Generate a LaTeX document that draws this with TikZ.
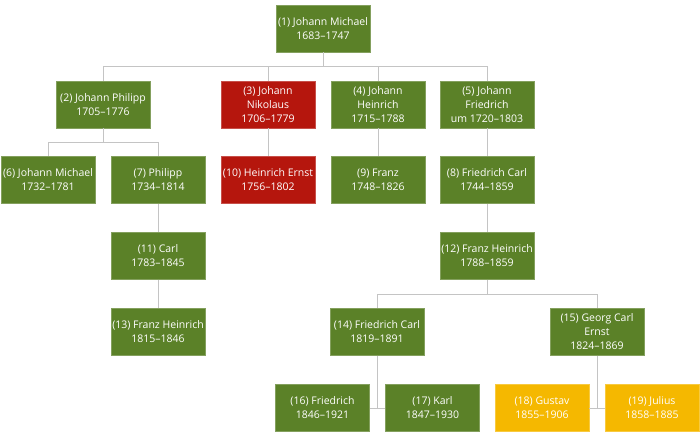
\documentclass[tikz,border=0pt]{standalone}
\usepackage{fontspec}
\setmainfont{Open Sans}
\definecolor{bachgreen}{HTML}{5B8128}
\definecolor{bachred}{HTML}{B5160D}
\definecolor{bachyellow}{HTML}{F5B800}
\definecolor{linegray}{HTML}{C4C4C4}
\tikzset{
  person/.style={fill=bachgreen, draw=bachgreen!75!white, line width=0.8pt,
    text=white, minimum width=94pt, minimum height=47pt, inner sep=0pt,
    align=center, font=\fontsize{10.5}{14}\selectfont},
  redline/.style={person, fill=bachred, draw=bachred!75!white},
  yellowline/.style={person, fill=bachyellow, draw=bachyellow!75!white},
  link/.style={draw=linegray, line width=1pt}
}
\begin{document}
\begin{tikzpicture}[x=1pt,y=-1pt]
        \useasboundingbox (0,0) rectangle (700,437);

        \node[person] (n1) at (323,28.5) {(1) Johann Michael\\1683–1747};

        \node[person] (n2) at (103,104.5) {(2) Johann Philipp\\1705–1776};
        \node[redline] (n3) at (268,104.5) {(3) Johann\\Nikolaus\\1706–1779};
        \node[person] (n4) at (378,104.5) {(4) Johann\\Heinrich\\1715–1788};
        \node[person] (n5) at (487,104.5) {(5) Johann\\Friedrich\\um 1720–1803};

        \node[person] (n6) at (48,180) {(6) Johann Michael\\1732–1781};
        \node[person] (n7) at (158,180) {(7) Philipp\\1734–1814};
        \node[redline] (n10) at (268,180) {(10) Heinrich Ernst\\1756–1802};
        \node[person] (n9) at (378,180) {(9) Franz\\1748–1826};
        \node[person] (n8) at (487,180) {(8) Friedrich Carl\\1744–1859};

        \node[person] (n11) at (158,256) {(11) Carl\\1783–1845};
        \node[person] (n12) at (487,256) {(12) Franz Heinrich\\1788–1859};

        \node[person] (n13) at (158,332) {(13) Franz Heinrich\\1815–1846};
        \node[person] (n14) at (377,332) {(14) Friedrich Carl\\1819–1891};
        \node[person] (n15) at (597,332) {(15) Georg Carl\\Ernst\\1824–1869};

        \node[person] (n16) at (322.5,408) {(16) Friedrich\\1846–1921};
        \node[person] (n17) at (432.5,408) {(17) Karl\\1847–1930};
        \node[yellowline] (n18) at (542,408) {(18) Gustav\\1855–1906};
        \node[yellowline] (n19) at (652,408) {(19) Julius\\1858–1885};

        \foreach \c in {n2,n3,n4,n5}
            \draw[link] (n1.south) -- ++(0,14.5) -| (\c.north);
        \foreach \c in {n6,n7}
            \draw[link] (n2.south) -- ++(0,14.5) -| (\c.north);
        \foreach \c in {n14,n15}
            \draw[link] (n12.south) -- ++(0,15) -| (\c.north);

        \draw[link] (n3) -- (n10);
        \draw[link] (n4) -- (n9);
        \draw[link] (n5) -- (n8);
        \draw[link] (n8) -- (n12);
        \draw[link] (n7) -- (n11);
        \draw[link] (n11) -- (n13);

        \draw[link] (n14.south) -- (n14.south |- n16.east);
        \draw[link] (n16.east) -- (n17.west);
        \draw[link] (n15.south) -- (n15.south |- n18.east);
        \draw[link] (n18.east) -- (n19.west);
    \end{tikzpicture}
\end{document}
